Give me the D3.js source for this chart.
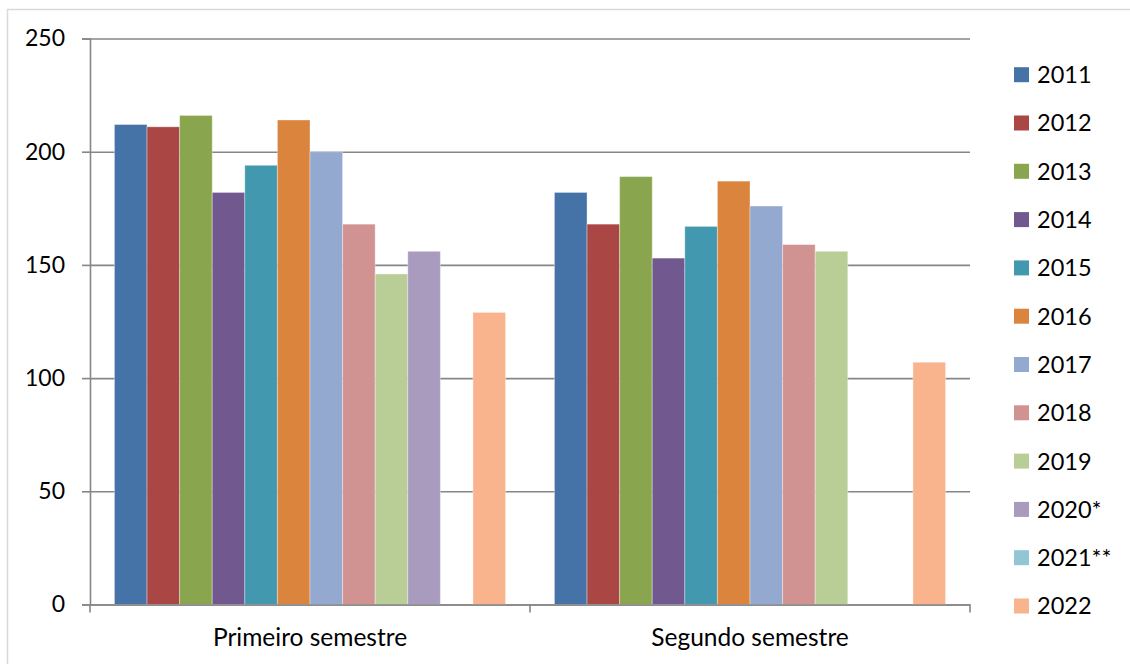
<!DOCTYPE html>
<html>
<head>
<meta charset="utf-8">
<script src="https://cdn.jsdelivr.net/npm/d3@7"></script>
<style>
  html, body { margin: 0; padding: 0; background: #fff; }
  svg { display: block; font-family: Lato, "Open Sans", sans-serif; }
</style>
</head>
<body>
<svg id="chart" width="1130" height="664"></svg>
<script>
// Semesters on the x axis, one bar per year inside each semester
const categories = ["Primeiro semestre", "Segundo semestre"];
const years = ["2011", "2012", "2013", "2014", "2015", "2016", "2017", "2018", "2019", "2020*", "2021**", "2022"];

// Values per year: [Primeiro semestre, Segundo semestre]; null = no bar
const v2011 = [212, 182];
const v2012 = [211, 168];
const v2013 = [216, 189];
const v2014 = [182, 153];
const v2015 = [194, 167];
const v2016 = [214, 187];
const v2017 = [200, 176];
const v2018 = [168, 159];
const v2019 = [146, 156];
const v2020 = [156, null];
const v2021 = [null, null];
const v2022 = [129, 107];

const yTicks = [0, 50, 100, 150, 200, 250];

const colors = ["#4572A7", "#AA4643", "#89A54E", "#71588F", "#4198AF", "#DB843D",
                "#93A9CF", "#D19392", "#B9CD96", "#A99BBD", "#92C5D6", "#F9B38D"];

const seriesValues = [v2011, v2012, v2013, v2014, v2015, v2016, v2017, v2018, v2019, v2020, v2021, v2022];
const series = years.map((yr, i) => ({ year: yr, values: seriesValues[i], color: colors[i] }));

const svg = d3.select("#chart");
const axisColor = "#868686";
const plotLeft = 90, plotRight = 970, plotTop = 38.5, plotBottom = 604.5;

// outer chart frame
svg.append("rect")
  .attr("x", 7.5).attr("y", 9.5)
  .attr("width", 1140).attr("height", 680)
  .attr("fill", "#fff").attr("stroke", "#d9d9d9").attr("stroke-width", 1.5);

const x0 = d3.scaleBand().domain(categories).range([plotLeft, plotRight]).paddingInner(0).paddingOuter(0);
// 12 bars + 150% gap width per category
const x1 = d3.scaleBand().domain(years).range([0, x0.bandwidth()]).paddingInner(0).paddingOuter(0.75);
const y = d3.scaleLinear().domain([0, 250]).range([plotBottom, plotTop]);

// horizontal gridlines
const grid = svg.append("g").attr("transform", `translate(${plotLeft},0)`)
  .call(d3.axisRight(y).tickValues(yTicks).tickSize(plotRight - plotLeft).tickFormat(""));
grid.select(".domain").remove();
grid.selectAll(".tick line").attr("stroke", axisColor).attr("stroke-width", 1.6);

// bars
const groups = svg.append("g").selectAll("g")
  .data(series).join("g")
  .attr("fill", d => d.color);

groups.selectAll("rect")
  .data(d => d.values.map((v, i) => ({ v, cat: categories[i], year: d.year })).filter(e => e.v != null))
  .join("rect")
  .attr("x", e => x0(e.cat) + x1(e.year))
  .attr("width", x1.bandwidth())
  .attr("y", e => y(e.v))
  .attr("height", e => y(0) - y(e.v))
  .attr("stroke", "rgba(255,255,255,0.35)")
  .attr("stroke-width", 1);

// y axis
const yAxis = svg.append("g").attr("transform", `translate(${plotLeft},0)`)
  .call(d3.axisLeft(y).tickValues(yTicks).tickSize(8).tickPadding(17));
yAxis.select(".domain").attr("stroke", axisColor).attr("stroke-width", 1.6);
yAxis.selectAll(".tick line").attr("stroke", axisColor).attr("stroke-width", 1.6);
yAxis.selectAll(".tick text").attr("font-size", 23).attr("fill", "#000")
  .attr("font-family", "Lato, 'Open Sans', sans-serif");

// x axis baseline and category boundary ticks
const xAxis = svg.append("g").attr("transform", `translate(0,${plotBottom})`)
  .call(d3.axisBottom(x0).tickSize(0).tickPadding(24));
xAxis.select(".domain").attr("stroke", axisColor).attr("stroke-width", 1.6);
xAxis.selectAll(".tick text").attr("font-size", 24.5).attr("fill", "#000")
  .attr("font-family", "Lato, 'Open Sans', sans-serif");

const bounds = [x0(categories[0])].concat(categories.map(c => x0(c) + x0.bandwidth()));
xAxis.append("g").selectAll("line").data(bounds).join("line")
  .attr("x1", d => d).attr("x2", d => d)
  .attr("y1", 0).attr("y2", 8)
  .attr("stroke", axisColor).attr("stroke-width", 1.6);

// legend
const legend = svg.append("g").attr("transform", "translate(1014,74.7)");
const item = legend.selectAll("g").data(series).join("g")
  .attr("transform", (d, i) => `translate(0,${i * 48.3})`);
item.append("rect")
  .attr("x", 0).attr("y", -7.5).attr("width", 15).attr("height", 15)
  .attr("fill", d => d.color);
item.append("text")
  .attr("x", 23).attr("y", 0).attr("dy", "0.36em")
  .attr("font-size", 23.5).attr("fill", "#000")
  .text(d => d.year);
</script>
</body>
</html>
